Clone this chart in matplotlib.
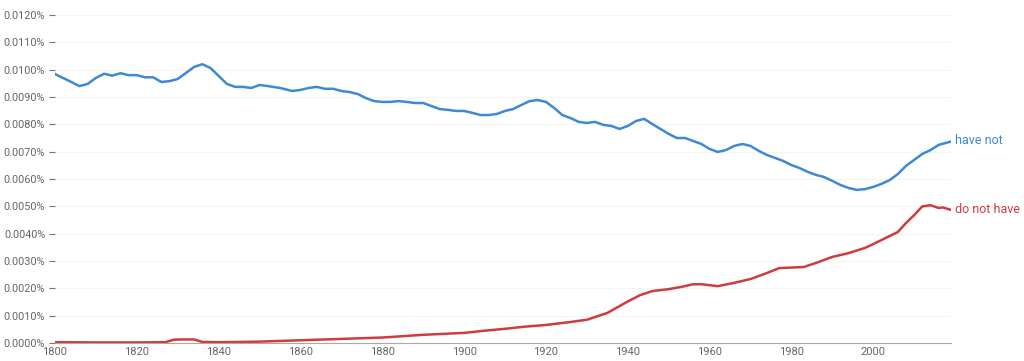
import numpy as np
import matplotlib.pyplot as plt
from matplotlib.ticker import FuncFormatter, MultipleLocator

plt.rcParams['font.family'] = ['Roboto', 'DejaVu Sans']

# frequencies in percent
years_a = [1800, 1803, 1806, 1808, 1810, 1812, 1814, 1816, 1818, 1820, 1822, 1824, 1826, 1828,
           1830, 1832, 1834, 1836, 1838, 1840, 1842, 1844, 1846, 1848, 1850, 1852, 1855, 1858,
           1860, 1862, 1864, 1866, 1868, 1870, 1872, 1874, 1876, 1878, 1880, 1882, 1884, 1886,
           1888, 1890, 1892, 1894, 1896, 1898, 1900, 1902, 1904, 1906, 1908, 1910, 1912, 1914,
           1916, 1918, 1920, 1922, 1924, 1926, 1928, 1930, 1932, 1934, 1936, 1938, 1940, 1942,
           1944, 1946, 1948, 1950, 1952, 1954, 1956, 1958, 1960, 1962, 1964, 1966, 1968, 1970,
           1972, 1974, 1976, 1978, 1980, 1982, 1984, 1986, 1988, 1990, 1992, 1994, 1996, 1998,
           2000, 2002, 2004, 2006, 2008, 2010, 2012, 2014, 2016, 2019]
have_not = [0.00984, 0.00962, 0.00940, 0.00948, 0.00970, 0.00985, 0.00978, 0.00987, 0.00980,
            0.00980, 0.00972, 0.00972, 0.00955, 0.00958, 0.00966, 0.00988, 0.01010, 0.01020,
            0.01006, 0.00977, 0.00948, 0.00937, 0.00937, 0.00933, 0.00944, 0.00940, 0.00933,
            0.00922, 0.00926, 0.00933, 0.00937, 0.00930, 0.00930, 0.00922, 0.00918, 0.00911,
            0.00896, 0.00885, 0.00882, 0.00882, 0.00885, 0.00882, 0.00878, 0.00878, 0.00867,
            0.00856, 0.00853, 0.00849, 0.00849, 0.00842, 0.00834, 0.00834, 0.00838, 0.00849,
            0.00856, 0.00871, 0.00885, 0.00889, 0.00882, 0.00860, 0.00834, 0.00823, 0.00809,
            0.00805, 0.00809, 0.00798, 0.00794, 0.00783, 0.00794, 0.00812, 0.00820, 0.00801,
            0.00783, 0.00765, 0.00750, 0.00750, 0.00739, 0.00728, 0.00710, 0.00699, 0.00706,
            0.00721, 0.00728, 0.00721, 0.00703, 0.00688, 0.00677, 0.00666, 0.00651, 0.00640,
            0.00626, 0.00615, 0.00607, 0.00593, 0.00578, 0.00567, 0.00560, 0.00563, 0.00571,
            0.00582, 0.00596, 0.00618, 0.00648, 0.00670, 0.00692, 0.00706, 0.00725, 0.00737]

years_b = [1800, 1810, 1820, 1827, 1829, 1831, 1834, 1836, 1840, 1850, 1860, 1870, 1880, 1890,
           1900, 1905, 1910, 1915, 1920, 1925, 1930, 1935, 1940, 1943, 1946, 1950, 1953, 1956,
           1958, 1962, 1966, 1970, 1974, 1977, 1980, 1983, 1986, 1990, 1994, 1998, 2000, 2003,
           2006, 2008, 2010, 2012, 2014, 2016, 2017, 2019]
do_not_have = [0.00003, 0.00002, 0.00002, 0.00003, 0.00012, 0.00013, 0.00013, 0.00004, 0.00003,
               0.00005, 0.00010, 0.00015, 0.00020, 0.00030, 0.00037, 0.00045, 0.00052, 0.00060,
               0.00066, 0.00075, 0.00085, 0.00110, 0.00152, 0.00175, 0.00190, 0.00197, 0.00205,
               0.00215, 0.00215, 0.00208, 0.00220, 0.00234, 0.00256, 0.00274, 0.00276, 0.00278,
               0.00293, 0.00315, 0.00329, 0.00348, 0.00362, 0.00384, 0.00406, 0.00439, 0.00468,
               0.00500, 0.00504, 0.00494, 0.00496, 0.00487]

blue = '#3d89d4'
red = '#cf3b3e'

fig = plt.figure(figsize=(10.24, 3.61), dpi=100)
ax = fig.add_axes([55/1024, 18/361, 896/1024, 328/361])

ax.plot(years_a, have_not, color=blue, lw=1.8, solid_joinstyle='round')
ax.plot(years_b, do_not_have, color=red, lw=1.8, solid_joinstyle='round')

ax.text(years_a[-1] + 1, have_not[-1] + 0.00005, 'have not', color=blue, fontsize=9, va='center')
ax.text(years_b[-1] + 1, do_not_have[-1], 'do not have', color=red, fontsize=9, va='center')

ax.set_xlim(1800, 2019)
ax.set_ylim(0, 0.012)
ax.xaxis.set_major_locator(MultipleLocator(20))
ax.yaxis.set_major_locator(MultipleLocator(0.001))
ax.yaxis.set_major_formatter(FuncFormatter(lambda v, p: '%.4f%%' % v))
ax.grid(axis='y', color='#f4f4f4', lw=0.8)
ax.set_axisbelow(True)

for s in ['top', 'right', 'left']:
    ax.spines[s].set_visible(False)
ax.spines['bottom'].set_color('#aaaaaa')
ax.tick_params(axis='y', length=4, width=0.8, color='#777777', labelcolor='#666666',
               labelsize=7.8, pad=3)
ax.tick_params(axis='x', length=0, labelcolor='#666666', labelsize=8, pad=3)

fig.savefig('out.png', dpi=100)
